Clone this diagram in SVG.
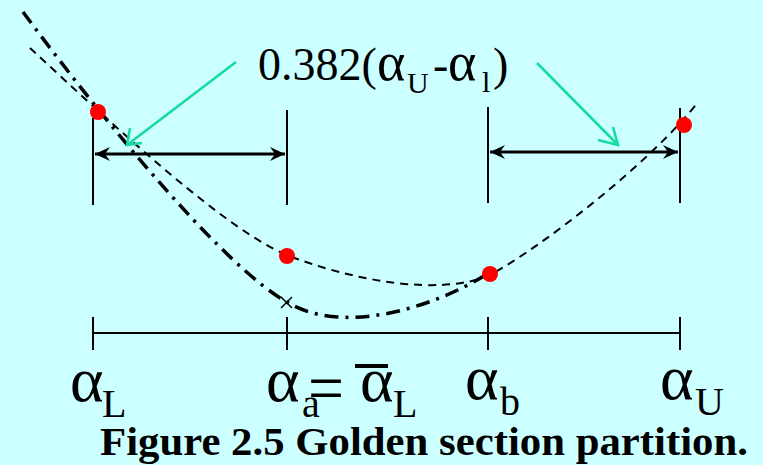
<svg xmlns="http://www.w3.org/2000/svg" width="763" height="465" viewBox="0 0 763 465">
<style>
.tick{stroke:#000;stroke-width:2;fill:none}
.dim{stroke:#000;stroke-width:3;fill:none}
.dash{stroke:#000;stroke-width:2;fill:none;stroke-dasharray:8 6}
.dashdot{stroke:#000;stroke-width:3.5;fill:none;stroke-dasharray:14 7 3 7}
.green{stroke:#12DCA0;stroke-width:2.5;fill:none}
.pt{fill:#FF0000}
.lbl{font-family:"Liberation Serif","Times New Roman",serif;fill:#000}
.cap{font-family:"Liberation Serif","Times New Roman",serif;font-weight:bold;fill:#000}
</style>
<defs>
<marker id="ah" viewBox="-16 -8 17 16" refX="0" refY="0" markerWidth="17" markerHeight="16" markerUnits="userSpaceOnUse" orient="auto-start-reverse">
<path d="M0,0 L-15,-7 L-10,0 L-15,7 Z" fill="#000"/>
</marker>
</defs>
<rect width="763" height="465" fill="#CCFFFF"/>

<g id="curves">
<path class="dash" d="M30,48 C115,127 227,231 287,255 C350,280 440,297 490,275 C545,245 653,160 698,102"/>
<path class="dashdot" d="M23,12 C112,132 227,269 287,302 C340,335 430,310 489,273"/>
<path d="M281,297 L292,308 M292,297 L281,308" stroke="#000" stroke-width="1.5"/>
</g>

<g id="connectors">
<line class="tick" x1="93" y1="118" x2="93" y2="205"/>
<line class="tick" x1="287" y1="110" x2="287" y2="205"/>
<line class="tick" x1="488" y1="107" x2="488" y2="203"/>
<line class="tick" x1="680" y1="108" x2="680" y2="203"/>
<line class="dim" x1="95" y1="154" x2="285" y2="154" marker-start="url(#ah)" marker-end="url(#ah)"/>
<line class="dim" x1="490" y1="152" x2="678" y2="152" marker-start="url(#ah)" marker-end="url(#ah)"/>
<line class="tick" x1="93" y1="333" x2="680" y2="333"/>
<line class="tick" x1="93" y1="317" x2="93" y2="350"/>
<line class="tick" x1="287" y1="317" x2="287" y2="350"/>
<line class="tick" x1="488" y1="317" x2="488" y2="350"/>
<line class="tick" x1="680" y1="317" x2="680" y2="350"/>
<path class="green" d="M236,62 L127,145 M130,128 L127,145 L142,143"/>
<path class="green" d="M537,63 L618,145 M613,127 L618,145 L598,140"/>
</g>

<g id="points">
<circle class="pt" cx="98" cy="112" r="8"/>
<circle class="pt" cx="287" cy="256" r="8"/>
<circle class="pt" cx="490" cy="274" r="8"/>
<circle class="pt" cx="684" cy="125" r="8"/>
</g>

<g id="top-label" class="lbl">
<text x="258" y="80" font-size="46">0.382(</text>
<text x="377" y="80" font-size="54">α</text>
<text x="407" y="93" font-size="30">U</text>
<text x="433" y="80" font-size="46">-</text>
<text x="448" y="80" font-size="54">α</text>
<text x="482" y="92" font-size="30">l</text>
<text x="493" y="80" font-size="46">)</text>
</g>

<g id="axis-labels" class="lbl">
<text x="70" y="401" font-size="64">α</text>
<text x="102" y="417" font-size="40">L</text>
<text x="266" y="401" font-size="64">α</text>
<text x="302" y="417" font-size="40">a</text>
<text x="308" y="398" font-size="56" transform="translate(0,-85.5) scale(1,1.25)" textLength="36" lengthAdjust="spacingAndGlyphs">=</text>
<line x1="355" y1="366" x2="388" y2="366" stroke="#000" stroke-width="4"/>
<text x="360" y="401" font-size="64">α</text>
<text x="393" y="417" font-size="40">L</text>
<text x="465" y="399" font-size="64">α</text>
<text x="500" y="415" font-size="40">b</text>
<text x="660" y="399" font-size="64">α</text>
<text x="695" y="415" font-size="40">U</text>
</g>

<g id="caption">
<text class="cap" x="100" y="455" font-size="41" textLength="648" lengthAdjust="spacingAndGlyphs">Figure 2.5 Golden section partition.</text>
</g>
</svg>
